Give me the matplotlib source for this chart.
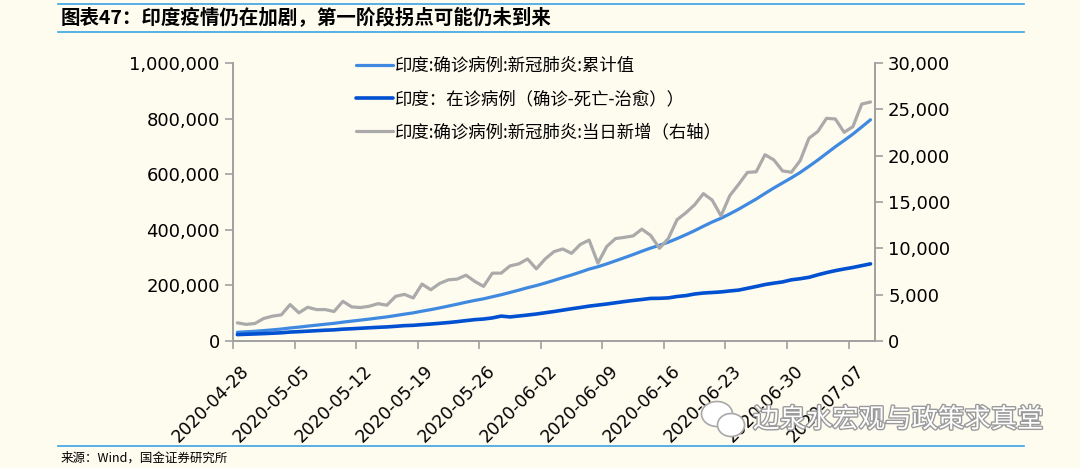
import numpy as np
import pandas as pd
import matplotlib
matplotlib.use("Agg")
import matplotlib.pyplot as plt
import matplotlib.patheffects as pe
from matplotlib.patches import Ellipse
from matplotlib.transforms import ScaledTranslation
from matplotlib.ticker import FuncFormatter, MultipleLocator

# Données (04-28 -> 07-09)
dates = pd.date_range("2020-04-28", "2020-07-09", freq="D")

cumulative = [
    31300, 33090, 34980, 37410, 40090, 42910, 46840, 49880, 53520, 56910,
    60300, 63480, 67760, 71440, 75050, 78800, 82830, 86690, 91510, 96540,
    101180, 107320, 112850, 119060, 125660, 132340, 139440, 145870, 151760, 159080,
    166400, 174500, 182820, 191670, 199450, 208300, 217940, 227870, 237330, 247750,
    258640, 267040, 277230, 288280, 299460, 310800, 322870, 334260, 344260, 355310,
    368400, 382230, 396930, 412830, 428030, 441530, 457220, 474120, 492310, 510570,
    530670, 550220, 568570, 586780, 606240, 628120, 650720, 674750, 698710, 721230,
    744360, 769930, 795720,
]

active = [
    23000, 24200, 25300, 26500, 28000, 29500, 32100, 33600, 35300, 37000,
    38800, 40000, 42600, 44000, 45800, 47500, 49200, 50600, 52800, 55200,
    56400, 58800, 61000, 63600, 66300, 69500, 73300, 76800, 79000, 83000,
    89500, 86500, 89900, 93300, 97000, 101500, 106000, 110900, 115900, 120400,
    125400, 129200, 133000, 137400, 141800, 145800, 149300, 153200, 153500, 155000,
    160000, 163200, 169000, 172500, 174400, 176500, 180000, 183000, 189500, 196000,
    203000, 208000, 212500, 220000, 224000, 229000, 238000, 246000, 253000, 259000,
    264500, 271000, 277500,
]

daily_new = [
    1960, 1790, 1890, 2430, 2680, 2820, 3930, 3040, 3640, 3390,
    3390, 3180, 4280, 3680, 3610, 3750, 4030, 3860, 4820, 5030,
    4640, 6140, 5530, 6210, 6600, 6680, 7100, 6430, 5890, 7320,
    7320, 8100, 8320, 8850, 7780, 8850, 9640, 9930, 9460, 10420,
    10890, 8400, 10190, 11050, 11180, 11340, 12070, 11390, 10000, 11050,
    13090, 13830, 14700, 15900, 15200, 13500, 15690, 16900, 18190, 18260,
    20100, 19550, 18350, 18210, 19460, 21880, 22600, 24030, 23960, 22520,
    23130, 25570, 25790,
]

labels = [
    "印度:确诊病例:新冠肺炎:累计值",
    "印度：在诊病例（确诊-死亡-治愈））",
    "印度:确诊病例:新冠肺炎:当日新增（右轴）",
]
couleurs = ["#3F8AE0", "#0050D2", "#AAAAAA"]

bg = "#FEFBEF"
cjk = ["Noto Sans CJK SC", "DejaVu Sans"]
plt.rcParams["font.family"] = ["DejaVu Sans", "Noto Sans CJK SC"]

fig = plt.figure(figsize=(10.8, 4.68), dpi=100, facecolor=bg)
ax = fig.add_axes([0.2157, 0.2714, 0.5944, 0.594])
ax.set_facecolor(bg)
ax2 = ax.twinx()

x = np.arange(len(dates))
l1, = ax.plot(x, cumulative, color=couleurs[0], lw=2.3, solid_capstyle="round")
l2, = ax.plot(x, active, color=couleurs[1], lw=2.6, solid_capstyle="round")
l3, = ax2.plot(x, daily_new, color=couleurs[2], lw=2.3, solid_capstyle="round")

ax.set_xlim(-0.5, len(dates) - 0.5)
ax.set_ylim(0, 1000000)
ax2.set_ylim(0, 30000)
ax.yaxis.set_major_locator(MultipleLocator(200000))
ax2.yaxis.set_major_locator(MultipleLocator(5000))
fmt = FuncFormatter(lambda v, _: "{:,.0f}".format(v))
ax.yaxis.set_major_formatter(fmt)
ax2.yaxis.set_major_formatter(fmt)

spine_c = "#A0A0A0"
for a in (ax, ax2):
    a.spines["top"].set_visible(False)
    for s in ("left", "right", "bottom"):
        a.spines[s].set_color(spine_c)
        a.spines[s].set_linewidth(1.2)
    a.tick_params(colors=spine_c, labelcolor="black", labelsize=13, length=6, width=1.2)

# Axe des catégories : graduations entre les jours, étiquettes à 45°
tick_idx = np.arange(0, len(dates), 7)
ax.set_xticks(tick_idx - 0.5)
ax.set_xticklabels([dates[i].strftime("%Y-%m-%d") for i in tick_idx],
                   rotation=45, ha="right", va="top", rotation_mode="anchor",
                   fontsize=12.5)
ax.tick_params(axis="x", pad=9)
shift = ScaledTranslation(7 / 100, 0, fig.dpi_scale_trans)
for lab in ax.get_xticklabels():
    lab.set_transform(lab.get_transform() + shift)

leg = ax2.legend([l1, l2, l3], labels, loc="upper left", bbox_to_anchor=(0.168, 1.078),
                 frameon=False, prop={"family": cjk, "size": 12.5},
                 handlelength=2.1, handletextpad=0.1, labelspacing=0.88)

# Titre, filets et source
fig.text(0.056, 0.962, "图表47：印度疫情仍在加剧，第一阶段拐点可能仍未到来",
         family=cjk, fontsize=14, fontweight="bold", style="italic", va="center")
for yy in (0.992, 0.932, 0.046):
    fig.add_artist(plt.Line2D([0.054, 0.948], [yy, yy], color="#3AA3E3", lw=1.2))
fig.text(0.056, 0.021, "来源：Wind，国金证券研究所", family=cjk, fontsize=9, va="center")

# Filigrane
for (cx, cy, w, h) in [(717, 54, 31, 25), (731, 43, 27, 23)]:
    fig.add_artist(Ellipse((cx / 1080, cy / 468), w / 1080, h / 468,
                           transform=fig.transFigure, facecolor="white",
                           edgecolor="#A8A8A8", lw=1.2))
fig.text(0.966, 0.103, "边泉水宏观与政策求真堂", family=cjk, fontsize=19, ha="right",
         va="center", color="white",
         path_effects=[pe.withStroke(linewidth=2, foreground="#9A9A9A")])

fig.savefig("out.png", dpi=100, facecolor=bg)
